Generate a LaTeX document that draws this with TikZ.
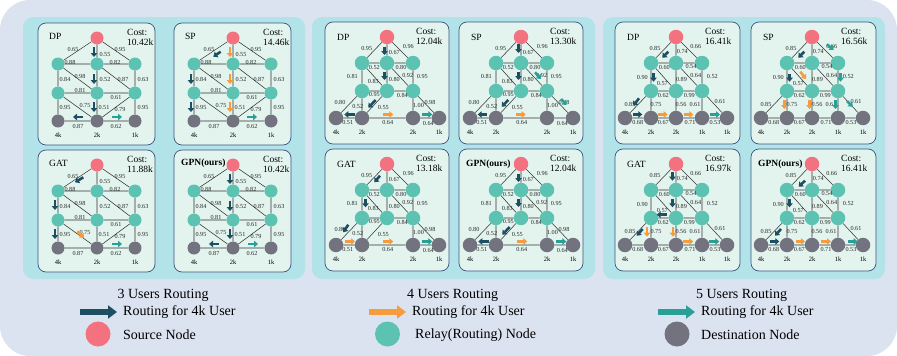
\documentclass[tikz,border=0pt]{standalone}
\usepackage{fontspec}
\setmainfont{Liberation Serif}
\usetikzlibrary{arrows.meta}

\definecolor{bgcol}{RGB}{220,227,240}
\definecolor{grpcol}{RGB}{178,227,233}
\definecolor{pnlfill}{RGB}{227,244,238}
\definecolor{pnlline}{RGB}{58,84,128}
\definecolor{srccol}{RGB}{244,113,128}
\definecolor{rlycol}{RGB}{92,194,178}
\definecolor{dstcol}{RGB}{114,115,127}
\definecolor{rtnavy}{RGB}{30,78,98}
\definecolor{rtorange}{RGB}{247,155,60}
\definecolor{rtteal}{RGB}{40,160,150}

\def\nsz{13pt}
\def\ttlx{11} \def\ttly{13} \def\costx{89}

\tikzset{
  grp/.style={fill=grpcol, rounded corners=10pt},
  pnl/.style={draw=pnlline, fill=pnlfill, line width=0.7pt, rounded corners=8pt},
  src/.style={circle, fill=srccol, inner sep=0pt, minimum size=\nsz},
  rly/.style={circle, fill=rlycol, inner sep=0pt, minimum size=\nsz},
  dst/.style={circle, fill=dstcol, inner sep=0pt, minimum size=\nsz},
  edge/.style={draw=black!80, line width=0.55pt},
  lbl/.style={font=\fontsize{6.2}{6.2}\selectfont, inner sep=0pt, text=black!85},
  dlbl/.style={font=\fontsize{6.5}{6.5}\selectfont, inner sep=0pt},
  ttl/.style={font=\fontsize{9.5}{10}\selectfont, inner sep=0pt},
  cst/.style={font=\fontsize{9.5}{10.5}\selectfont, inner sep=0pt, align=left},
  rt/.style={line width=2.6pt, -{Triangle[length=4pt, width=6.5pt]}},
  bigrt/.style={line width=6pt, -{Triangle[length=9pt, width=13pt]}},
  leg/.style={font=\fontsize{14}{14}\selectfont, inner sep=0pt}
}

% frame of one method: width, title, cost
\newcommand{\drawpanel}[3]{%
  \draw[pnl] (0,0) rectangle (#1,122);
  \node[ttl, anchor=west] (title) at (\ttlx,\ttly) {#2};
  \node[cst, anchor=west] (cost) at (\costx,14.5) {Cost:\\#3};
}

% one routing arrow: colour, from, to
\newcommand{\rtarrow}[3]{\draw[rt, #1] #2 -- #3;}

% network for 3 users
\newcommand{\graphthree}{%
  \node[src] (s) at (59,15) {};
  \node[rly] (u1) at (20,41) {};
  \node[rly] (u2) at (59,41) {};
  \node[rly] (u3) at (97,41) {};
  \node[rly] (v1) at (20,70) {};
  \node[rly] (v2) at (59,70) {};
  \node[rly] (v3) at (97,70) {};
  \node[dst] (d1) at (20,98) {};
  \node[dst] (d2) at (59,98) {};
  \node[dst] (d3) at (97,98) {};
  \draw[edge] (s) -- (u1) (s) -- (u2) (s) -- (u3)
    (u1) -- (u2) (u2) -- (u3)
    (u1) -- (v1) (u1) -- (v2) (u2) -- (v2) (u2) -- (v3) (u3) -- (v3)
    (v1) -- (v2) (v2) -- (v3)
    (v1) -- (d1) (v1) -- (d2) (v2) -- (d2) (v3) -- (d2) (v3) -- (d3)
    (d1) -- (d2) (d2) -- (d3);
  \node[lbl] (w1) at (35,26) {0.65};
  \node[lbl] (w2) at (67,31) {0.55};
  \node[lbl] (w3) at (82,26) {0.95};
  \node[lbl] (w4) at (32,39) {0.88};
  \node[lbl] (w5) at (77,39) {0.82};
  \node[lbl] (w6) at (27,56) {0.84};
  \node[lbl] (w7) at (42,53) {0.98};
  \node[lbl] (w8) at (67,56) {0.52};
  \node[lbl] (w9) at (85,56) {0.87};
  \node[lbl] (w10) at (105,56) {0.63};
  \node[lbl] (w11) at (42,67.5) {0.81};
  \node[lbl] (w12) at (78,74) {0.61};
  \node[lbl] (w13) at (27,84) {0.95};
  \node[lbl] (w14) at (47,82) {0.75};
  \node[lbl] (w15) at (66,84) {0.51};
  \node[lbl] (w16) at (82,86) {0.79};
  \node[lbl] (w17) at (105,84) {0.95};
  \node[lbl] (w18) at (40,103) {0.87};
  \node[lbl] (w19) at (78,103) {0.62};
  \node[dlbl] (t1) at (20,112) {4k};
  \node[dlbl] (t2) at (59,112) {2k};
  \node[dlbl] (t3) at (97,112) {1k};
}

% network for 4 users
\newcommand{\graphfour}{%
  \node[src] (s) at (62,15) {};
  \node[rly] (u1) at (37,41) {};
  \node[rly] (u2) at (62,41) {};
  \node[rly] (u3) at (88,41) {};
  \node[rly] (v1) at (37,69) {};
  \node[rly] (v2) at (62,69) {};
  \node[rly] (v3) at (88,69) {};
  \node[dst] (d1) at (11,96) {};
  \node[dst] (d2) at (37,96) {};
  \node[dst] (d3) at (88,96) {};
  \node[dst] (d4) at (114,96) {};
  \draw[edge] (s) -- (u1) (s) -- (u2) (s) -- (u3)
    (u1) -- (u2) (u2) -- (u3)
    (u1) -- (v1) (u1) -- (v2) (u2) -- (v2) (u2) -- (v3) (u3) -- (v3)
    (v1) -- (v2) (v2) -- (v3)
    (v1) -- (d1) (v1) -- (d2) (v2) -- (d2) (v3) -- (d3) (v3) -- (d4)
    (d1) -- (d2) (d2) -- (d3) (d3) -- (d4);
  \node[lbl] (w1) at (41.7,26.3) {0.95};
  \node[lbl] (w2) at (69.3,30.7) {0.67};
  \node[lbl] (w3) at (83.3,24.7) {0.96};
  \node[lbl] (w4) at (49.3,45.3) {0.52};
  \node[lbl] (w5) at (76,45.3) {0.80};
  \node[lbl] (w6) at (27.3,54.7) {0.81};
  \node[lbl] (w7) at (48.3,59.7) {0.83};
  \node[lbl] (w8) at (69.3,57) {0.80};
  \node[lbl] (w9) at (82.7,53) {0.92};
  \node[lbl] (w10) at (97.3,54.7) {0.95};
  \node[lbl] (w11) at (49.3,72.3) {0.95};
  \node[lbl] (w12) at (77.3,73) {0.84};
  \node[lbl] (w13) at (15,80.3) {0.80};
  \node[lbl] (w14) at (32.7,84.7) {0.52};
  \node[lbl] (w15) at (58.3,85.7) {0.55};
  \node[lbl] (w16) at (93.5,83) {1.00};
  \node[lbl] (w17) at (105,80.3) {0.98};
  \node[lbl] (w18) at (22.7,100.3) {0.51};
  \node[lbl] (w19) at (62.7,100.3) {0.64};
  \node[lbl] (w20) at (103.3,101.3) {0.64};
  \node[dlbl] (t1) at (11,110) {4k};
  \node[dlbl] (t2) at (37,110) {2k};
  \node[dlbl] (t3) at (88,110) {2k};
  \node[dlbl] (t4) at (114,110) {1k};
}

% network for 5 users
\newcommand{\graphfive}{%
  \node[src] (s) at (61,15) {};
  \node[rly] (u1) at (36,41) {};
  \node[rly] (u2) at (61,41) {};
  \node[rly] (u3) at (87,41) {};
  \node[rly] (v1) at (36,69) {};
  \node[rly] (v2) at (61,69) {};
  \node[rly] (v3) at (87,69) {};
  \node[dst] (d1) at (10,96) {};
  \node[dst] (d2) at (36,96) {};
  \node[dst] (d3) at (61,96) {};
  \node[dst] (d4) at (87,96) {};
  \node[dst] (d5) at (112,96) {};
  \draw[edge] (s) -- (u1) (s) -- (u2) (s) -- (u3)
    (u1) -- (u2) (u2) -- (u3)
    (u1) -- (v1) (u1) -- (v2) (u2) -- (v2) (u2) -- (v3) (u3) -- (v3)
    (v1) -- (v2) (v2) -- (v3)
    (v1) -- (d1) (v1) -- (d2) (v2) -- (d3) (v3) -- (d4) (v3) -- (d5)
    (d1) -- (d2) (d2) -- (d3) (d3) -- (d4) (d4) -- (d5);
  \node[lbl] (w1) at (40,26.3) {0.85};
  \node[lbl] (w2) at (67.3,29.7) {0.74};
  \node[lbl] (w3) at (80.7,24.7) {0.66};
  \node[lbl] (w4) at (49.3,45.3) {0.60};
  \node[lbl] (w5) at (76,44.7) {0.54};
  \node[lbl] (w6) at (27.3,55.7) {0.90};
  \node[lbl] (w7) at (47.3,61.3) {0.57};
  \node[lbl] (w8) at (66.5,57.3) {0.89};
  \node[lbl] (w9) at (80.7,53) {0.64};
  \node[lbl] (w10) at (97.3,54.7) {0.52};
  \node[lbl] (w11) at (48.3,73) {0.62};
  \node[lbl] (w12) at (74.3,73) {0.99};
  \node[lbl] (w13) at (15,82) {0.85};
  \node[lbl] (w14) at (41,82) {0.75};
  \node[lbl] (w15) at (66,82.3) {0.56};
  \node[lbl] (w16) at (80,82.3) {0.61};
  \node[lbl] (w17) at (105,79) {0.61};
  \node[lbl] (w18) at (22.7,100.3) {0.68};
  \node[lbl] (w19) at (48.3,100.3) {0.67};
  \node[lbl] (w20) at (75,100.3) {0.71};
  \node[lbl] (w21) at (100,100.3) {0.53};
  \node[dlbl] (t1) at (10,110) {4k};
  \node[dlbl] (t2) at (36,110) {2k};
  \node[dlbl] (t3) at (61,110) {2k};
  \node[dlbl] (t4) at (87,110) {1k};
  \node[dlbl] (t5) at (112,110) {1k};
}

\begin{document}
\begin{tikzpicture}[x=1pt, y=-1pt, line join=round]

  \useasboundingbox (0,0) rectangle (897,356);

  % background and the three groups
  \fill[bgcol, rounded corners=30pt] (0,0) rectangle (897,356);
  \fill[grp] (23,17) rectangle (305,279);
  \fill[grp] (312,17) rectangle (595,279);
  \fill[grp] (603,17) rectangle (885,279);

  % ---------------- 3 users ----------------
  \def\nsz{13pt} \def\ttlx{11} \def\ttly{13} \def\costx{89}
  \begin{scope}[shift={(38,23)}]
    \drawpanel{117}{DP}{10.42k}
    \graphthree
    \rtarrow{rtnavy}{(56,24)}{(56,34)}
    \rtarrow{rtnavy}{(56,51)}{(56,61)}
    \rtarrow{rtnavy}{(56,79)}{(56,89)}
    \rtarrow{rtnavy}{(45,94)}{(35,94)}
    \rtarrow{rtteal}{(74,94)}{(84,94)}
  \end{scope}
  \begin{scope}[shift={(174,23)}]
    \drawpanel{117}{SP}{14.46k}
    \graphthree
    \rtarrow{rtnavy}{(46.7,28.7)}{(39.3,33.7)}
    \rtarrow{rtorange}{(56,24)}{(56,34)}
    \rtarrow{rtorange}{(56,51)}{(56,61)}
    \rtarrow{rtorange}{(56,79)}{(56,89)}
    \rtarrow{rtnavy}{(17,51)}{(17,61)}
    \rtarrow{rtnavy}{(17,79)}{(17,89)}
    \rtarrow{rtteal}{(73,94)}{(83,94)}
  \end{scope}
  \begin{scope}[shift={(38,150)}]
    \drawpanel{117}{GAT}{11.88k}
    \graphthree
    \rtarrow{rtnavy}{(45.3,27.3)}{(37,32.3)}
    \rtarrow{rtnavy}{(17,50)}{(17,60)}
    \rtarrow{rtnavy}{(17,79)}{(17,89)}
    \rtarrow{rtorange}{(39.3,81.3)}{(46,88)}
    \rtarrow{rtteal}{(74,94)}{(84,94)}
  \end{scope}
  \begin{scope}[shift={(174,150)}]
    \def\ttlx{7}
    \drawpanel{117}{\bfseries GPN(ours)}{10.42k}
    \graphthree
    \rtarrow{rtnavy}{(56,24)}{(56,34)}
    \rtarrow{rtnavy}{(56,51)}{(56,61)}
    \rtarrow{rtnavy}{(56,79)}{(56,89)}
    \rtarrow{rtnavy}{(45,94)}{(35,94)}
    \rtarrow{rtteal}{(74,94)}{(84,94)}
  \end{scope}

  % ---------------- 4 users ----------------
  \def\nsz{14.5pt} \def\ttlx{12} \def\ttly{15.5} \def\costx{91}
  \begin{scope}[shift={(325,22)}]
    \drawpanel{124}{DP}{12.04k}
    \graphfour
    \rtarrow{rtnavy}{(59.5,24.7)}{(59.5,33)}
    \rtarrow{rtnavy}{(59.5,49.7)}{(59.5,58)}
    \rtarrow{rtnavy}{(50.7,78)}{(43.3,85.7)}
    \rtarrow{rtnavy}{(30,92.5)}{(19.3,92.5)}
    \rtarrow{rtorange}{(58.3,92.5)}{(68.3,92.5)}
    \rtarrow{rtteal}{(97.3,92.5)}{(107.3,92.5)}
  \end{scope}
  \begin{scope}[shift={(459,22)}]
    \drawpanel{124}{SP}{13.30k}
    \graphfour
    \rtarrow{rtnavy}{(59.5,22)}{(59.5,31)}
    \rtarrow{rtnavy}{(59.5,50)}{(59.5,58)}
    \rtarrow{rtteal}{(76,50.3)}{(82,57)}
    \rtarrow{rtnavy}{(49.3,78)}{(42.7,84.7)}
    \rtarrow{rtnavy}{(27.7,92.5)}{(18.7,92.5)}
    \rtarrow{rtorange}{(56.7,92.5)}{(66.7,92.5)}
    \rtarrow{rtteal}{(102,77)}{(107.7,83)}
  \end{scope}
  \begin{scope}[shift={(325,149)}]
    \drawpanel{124}{GAT}{13.18k}
    \graphfour
    \rtarrow{rtnavy}{(55,26.7)}{(49.3,33.3)}
    \rtarrow{rtnavy}{(40.5,50)}{(40.5,58.3)}
    \rtarrow{rtnavy}{(23.3,75.7)}{(18.3,83.3)}
    \rtarrow{rtorange}{(20,92.5)}{(30,92.5)}
    \rtarrow{rtorange}{(58.3,92.5)}{(68.3,92.5)}
    \rtarrow{rtteal}{(97.3,92.5)}{(107.3,92.5)}
  \end{scope}
  \begin{scope}[shift={(459,149)}]
    \def\ttlx{7}
    \drawpanel{124}{\bfseries GPN(ours)}{12.04k}
    \graphfour
    \rtarrow{rtnavy}{(59.5,24.7)}{(59.5,33)}
    \rtarrow{rtnavy}{(59.5,49.7)}{(59.5,58)}
    \rtarrow{rtnavy}{(50.7,78)}{(43.3,85.7)}
    \rtarrow{rtnavy}{(30,92.5)}{(19.3,92.5)}
    \rtarrow{rtorange}{(58.3,92.5)}{(68.3,92.5)}
    \rtarrow{rtteal}{(97.3,92.5)}{(107.3,92.5)}
  \end{scope}

  % ---------------- 5 users ----------------
  \def\costx{90}
  \begin{scope}[shift={(615,22)}]
    \drawpanel{125}{DP}{16.41k}
    \graphfive
    \rtarrow{rtnavy}{(53.3,29.7)}{(47.3,35.7)}
    \rtarrow{rtnavy}{(38.5,51.3)}{(38.5,59.7)}
    \rtarrow{rtnavy}{(24,76.3)}{(18.3,83.7)}
    \rtarrow{rtnavy}{(18.3,92.5)}{(27.3,92.5)}
    \rtarrow{rtorange}{(43.3,92.5)}{(52.7,92.5)}
    \rtarrow{rtorange}{(69.3,92.5)}{(78.3,92.5)}
    \rtarrow{rtteal}{(95,92.5)}{(105,92.5)}
  \end{scope}
  \begin{scope}[shift={(751,22)}]
    \drawpanel{125}{SP}{16.56k}
    \graphfive
    \rtarrow{rtteal}{(76,22.3)}{(82.7,28)}
    \rtarrow{rtnavy}{(53.3,29.7)}{(47.3,35.7)}
    \rtarrow{rtnavy}{(38.5,52.3)}{(38.5,59.7)}
    \rtarrow{rtorange}{(49.3,49.7)}{(55,57)}
    \rtarrow{rtteal}{(89.5,51.3)}{(89.5,59.7)}
    \rtarrow{rtorange}{(33.3,78)}{(33.3,87)}
    \rtarrow{rtorange}{(58.5,78)}{(58.5,87)}
    \rtarrow{rtteal}{(84.5,78)}{(84.5,87)}
    \rtarrow{rtteal}{(96,79)}{(101.7,84.7)}
  \end{scope}
  \begin{scope}[shift={(615,149)}]
    \drawpanel{125}{GAT}{16.97k}
    \graphfive
    \rtarrow{rtnavy}{(57.5,23.3)}{(57.5,31.7)}
    \rtarrow{rtnavy}{(57.5,50)}{(57.5,58.3)}
    \rtarrow{rtnavy}{(51.7,65.7)}{(41.7,65.7)}
    \rtarrow{rtnavy}{(27.7,80)}{(21.7,86.7)}
    \rtarrow{rtorange}{(32,78.3)}{(32,87.7)}
    \rtarrow{rtorange}{(58,78)}{(58,87.7)}
    \rtarrow{rtorange}{(68.3,92.5)}{(78.3,92.5)}
    \rtarrow{rtteal}{(94.3,92.5)}{(104.3,92.5)}
  \end{scope}
  \begin{scope}[shift={(751,149)}]
    \def\ttlx{7}
    \drawpanel{125}{\bfseries GPN(ours)}{16.41k}
    \graphfive
    \rtarrow{rtnavy}{(54,31.7)}{(47.7,37.7)}
    \rtarrow{rtnavy}{(38.5,50)}{(38.5,58.3)}
    \rtarrow{rtnavy}{(30,80)}{(24,86.7)}
    \rtarrow{rtnavy}{(19.3,92.5)}{(28.3,92.5)}
    \rtarrow{rtorange}{(45,92.5)}{(54,92.5)}
    \rtarrow{rtorange}{(70,92.5)}{(80,92.5)}
    \rtarrow{rtteal}{(96.7,92.5)}{(106.7,92.5)}
  \end{scope}

  % ---------------- legend ----------------
  \node[leg] (h1) at (163,295) {3 Users Routing};
  \draw[bigrt, rtnavy] (80,312) -- (117,312);
  \node[leg, anchor=west] (l1) at (123,312) {Routing for 4k User};
  \node[src, minimum size=25pt] (k1) at (98,334) {};
  \node[leg, anchor=west] (l2) at (123,335) {Source Node};

  \node[leg] (h2) at (452.5,295) {4 Users Routing};
  \draw[bigrt, rtorange] (369,312) -- (406,312);
  \node[leg, anchor=west] (l3) at (412,312) {Routing for 4k User};
  \node[rly, minimum size=25pt] (k2) at (387.5,334) {};
  \node[leg, anchor=west] (l4) at (415,335) {Relay(Routing) Node};

  \node[leg] (h3) at (741.5,295) {5 Users Routing};
  \draw[bigrt, rtteal] (658,312) -- (695,312);
  \node[leg, anchor=west] (l5) at (701,312) {Routing for 4k User};
  \node[dst, minimum size=25pt] (k3) at (677,334) {};
  \node[leg, anchor=west] (l6) at (701,335) {Destination Node};

\end{tikzpicture}
\end{document}
